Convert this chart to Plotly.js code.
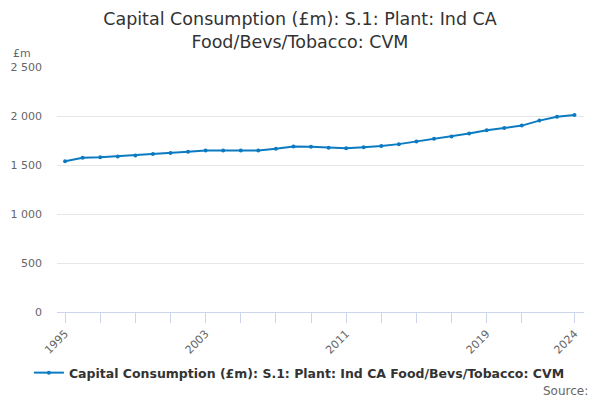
<!DOCTYPE html>
<html>
<head>
<meta charset="utf-8">
<script src="https://cdn.plot.ly/plotly-3.0.1.min.js"></script>
<style>
  html, body { margin: 0; padding: 0; background: #fff; }
  #chart { width: 600px; height: 400px; }
</style>
</head>
<body>
<div id="chart"></div>
<script>
  // ---------- Data ----------
  const years = [
    1995, 1996, 1997, 1998, 1999, 2000, 2001, 2002, 2003, 2004,
    2005, 2006, 2007, 2008, 2009, 2010, 2011, 2012, 2013, 2014,
    2015, 2016, 2017, 2018, 2019, 2020, 2021, 2022, 2023, 2024
  ];
  const values = [
    1538, 1574, 1578, 1588, 1598, 1611, 1622, 1635, 1649, 1649,
    1647, 1649, 1666, 1689, 1686, 1676, 1672, 1682, 1693, 1713,
    1740, 1767, 1791, 1821, 1855, 1878, 1902, 1953, 1993, 2010
  ];
  const tickYears = [1995, 1997, 1999, 2001, 2003, 2005, 2007, 2009, 2011,
                     2013, 2015, 2017, 2019, 2021, 2024];
  const labelYears = [1995, 2003, 2011, 2019, 2024];

  const seriesName = "Capital Consumption (£m): S.1: Plant: Ind CA Food/Bevs/Tobacco: CVM";
  const titleText = "Capital Consumption (£m): S.1: Plant: Ind CA<br>Food/Bevs/Tobacco: CVM";

  const C = {
    line: "#0b7bc1",
    text: "#333333",
    muted: "#666666",
    grid: "#e6e6e6",
    axis: "#ccd6eb",
  };
  const FONT = "DejaVu Sans, sans-serif";

  const trace = {
    x: years,
    y: values,
    type: "scatter",
    mode: "lines+markers",
    name: seriesName,
    line: { color: C.line, width: 2 },
    marker: { color: C.line, size: 4 },
  };

  const layout = {
    width: 600,
    height: 400,
    paper_bgcolor: "#fff",
    plot_bgcolor: "#fff",
    font: { family: FONT, color: C.muted, size: 11 },
    separators: ". ",
    margin: { l: 57, r: 16, t: 67, b: 88 },
    title: {
      text: titleText,
      font: { family: FONT, size: 17.5, color: C.text },
      x: 0.5, xanchor: "center",
      y: 0.938, yanchor: "middle",
    },
    xaxis: {
      range: [1994.54, 2024.54],
      tickmode: "array",
      tickvals: tickYears,
      ticktext: tickYears.map(y => labelYears.includes(y) ? String(y) : ""),
      tickangle: -45,
      ticks: "outside",
      ticklen: 10,
      tickcolor: C.axis,
      showline: true,
      linecolor: C.axis,
      linewidth: 1,
      showgrid: false,
      zeroline: false,
      tickfont: { family: FONT, size: 11, color: C.muted },
    },
    yaxis: {
      range: [0, 2500],
      dtick: 500,
      tickformat: ",d",
      showgrid: true,
      gridcolor: C.grid,
      zeroline: false,
      showline: false,
      ticks: "",
      ticklabelstandoff: 14,
      tickfont: { family: FONT, size: 11, color: C.muted },
    },
    showlegend: true,
    legend: {
      orientation: "h",
      x: 0.46, xanchor: "center",
      y: -0.249, yanchor: "middle",
      itemwidth: 30,
      font: { family: FONT, size: 12.5, color: C.text, weight: "bold" },
    },
    annotations: [
      {
        text: "£m",
        xref: "paper", yref: "paper",
        x: -0.087, y: 1.057,
        xanchor: "left", yanchor: "middle",
        showarrow: false,
        font: { family: FONT, size: 11, color: C.muted },
      },
      {
        text: "Source:",
        xref: "paper", yref: "paper",
        x: 1.011, y: -0.322,
        xanchor: "right", yanchor: "middle",
        showarrow: false,
        font: { family: FONT, size: 12, color: C.muted },
      },
    ],
  };

  Plotly.newPlot("chart", [trace], layout, { displayModeBar: false, responsive: false });
</script>
</body>
</html>
